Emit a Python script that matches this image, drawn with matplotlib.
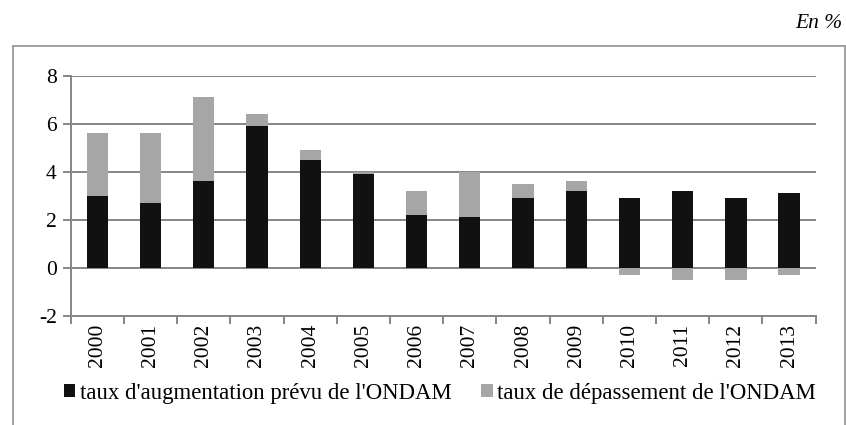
import matplotlib
matplotlib.use("Agg")
import matplotlib.pyplot as plt
from matplotlib.lines import Line2D
from matplotlib.patches import Patch
import numpy as np

years = ["2000", "2001", "2002", "2003", "2004", "2005", "2006",
         "2007", "2008", "2009", "2010", "2011", "2012", "2013"]
prevu = [3.0, 2.7, 3.6, 5.9, 4.5, 3.9, 2.2, 2.1, 2.9, 3.2, 2.9, 3.2, 2.9, 3.1]
depassement = [2.6, 2.9, 3.5, 0.5, 0.4, 0.1, 1.0, 1.9, 0.6, 0.4, -0.3, -0.5, -0.5, -0.3]
yticks = [-2, 0, 2, 4, 6, 8]

label_prevu = "taux d'augmentation prévu de l'ONDAM"
label_dep = "taux de dépassement de l'ONDAM"

plt.rcParams["font.family"] = ["Liberation Serif", "DejaVu Serif"]
FS = 15.5
FS_LEG = 16.4
W, H = 846, 425

fig = plt.figure(figsize=(W / 100, H / 100), dpi=100)
ax = fig.add_axes([70.7 / W, 1 - 315.7 / H, (815.7 - 70.7) / W, (315.7 - 75.7) / H])

black = "#111111"
grey = "#a6a6a6"
axis_grey = "#868686"

x = np.arange(len(years))
prevu_a = np.array(prevu)
dep_a = np.array(depassement)
# positive overruns stack on top of the planned rate, negative ones hang below zero
dep_bottom = np.where(dep_a >= 0, prevu_a, 0.0)

width = 0.4
ax.bar(x, prevu_a, width, color=black, zorder=3)
ax.bar(x, dep_a, width, bottom=dep_bottom, color=grey, zorder=3)

ax.set_xlim(-0.5, len(years) - 0.5)
ax.set_ylim(-2, 8)
ax.set_yticks(yticks)
ax.set_yticklabels([str(v) for v in yticks], fontsize=FS)
ax.yaxis.grid(True, color=axis_grey, linewidth=1.4, zorder=1)
ax.set_axisbelow(True)

ax.set_xticks(x)
ax.set_xticklabels(years, rotation=90, fontsize=FS)
ax.tick_params(axis="x", length=0, pad=6)
ax.set_xticks(np.arange(len(years) + 1) - 0.5, minor=True)
ax.tick_params(axis="x", which="minor", length=6, width=1.4, color=axis_grey)
ax.tick_params(axis="y", length=6, width=1.4, color=axis_grey, pad=4)

for side in ("top", "right"):
    ax.spines[side].set_visible(False)
for side in ("left", "bottom"):
    ax.spines[side].set_color(axis_grey)
    ax.spines[side].set_linewidth(1.4)

handles = [Patch(facecolor=black, label=label_prevu),
           Patch(facecolor=grey, label=label_dep)]
fig.legend(handles=handles, loc="center", bbox_to_anchor=(440 / W, 1 - 393 / H),
           ncol=2, frameon=False, fontsize=FS_LEG, handlelength=0.5, handleheight=0.5,
           handletextpad=0.2, columnspacing=1.3, borderpad=0, borderaxespad=0)

# outer chart frame
fx0, fx1, fy1 = 13.3 / W, 845 / W, 1 - 46 / H
for xs, ys in (([fx0, fx0], [-0.05, fy1]), ([fx0, fx1], [fy1, fy1]), ([fx1, fx1], [fy1, -0.05])):
    fig.add_artist(Line2D(xs, ys, transform=fig.transFigure, color="#9a9a9a", linewidth=1.3))

fig.text(842 / W, 1 - 24 / H, "En %", ha="right", va="center", fontsize=FS, style="italic")

fig.savefig("out.png", dpi=100)
